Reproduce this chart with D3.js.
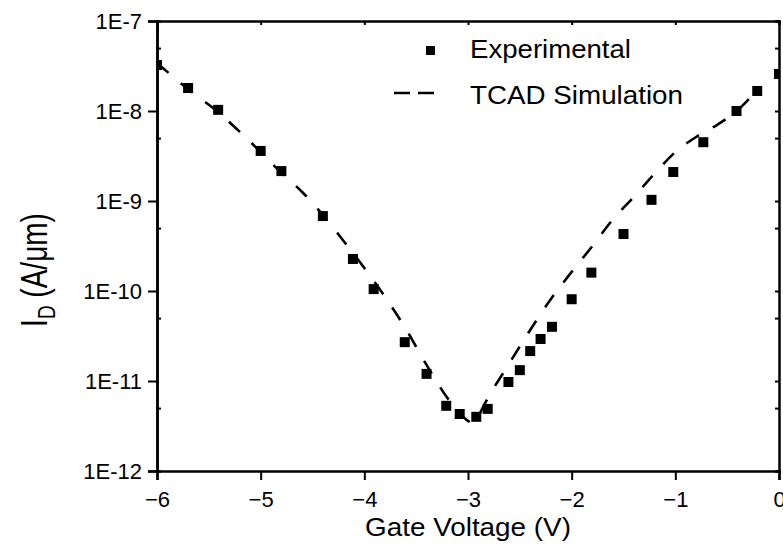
<!DOCTYPE html>
<html>
<head>
<meta charset="utf-8">
<script src="https://cdn.jsdelivr.net/npm/d3@7"></script>
<style>
  body { margin: 0; background: #fff; }
  svg { font-family: "Liberation Sans", Arial, sans-serif; }
</style>
</head>
<body>
<div id="chart"></div>
<script>
// measured drain current vs gate voltage
let expV = [-6, -5.7, -5.41, -5.0, -4.8, -4.4, -4.11, -3.91, -3.61, -3.4, -3.21, -3.08, -2.92, -2.81,
  -2.61, -2.5, -2.4, -2.3, -2.19, -2.0, -1.81, -1.5, -1.23, -1.02, -0.73, -0.41, -0.21, 0]
let expI = [3.24e-8, 1.8e-8, 1.03e-8, 3.6e-9, 2.15e-9, 6.8e-10, 2.27e-10, 1.05e-10, 2.7e-11, 1.2e-11,
  5.3e-12, 4.3e-12, 4.0e-12, 4.9e-12, 9.75e-12, 1.32e-11, 2.15e-11, 2.93e-11, 4.0e-11, 8.1e-11,
  1.6e-10, 4.3e-10, 1.03e-9, 2.1e-9, 4.5e-9, 1.0e-8, 1.67e-8, 2.58e-8]

// TCAD simulation curve
let simV = [-6, -5.7, -5.4, -5.2, -5.0, -4.8, -4.6, -4.4, -4.2, -4.0, -3.8, -3.6, -3.4, -3.2, -3.1,
  -3.0, -2.95, -2.9, -2.84, -2.6, -2.4, -2.2, -2.0, -1.8, -1.6, -1.4, -1.2, -1.0, -0.8, -0.6, -0.4, -0.2]
let simI = [3.41e-8, 1.75e-8, 9.5e-9, 5.85e-9, 3.5e-9, 2.05e-9, 1.26e-9, 7.0e-10, 3.6e-10, 1.8e-10,
  8.6e-11, 3.8e-11, 1.51e-11, 6.5e-12, 4.65e-12, 3.6e-12, 3.41e-12, 4.07e-12, 5.55e-12, 1.58e-11,
  3.69e-11, 8.15e-11, 1.63e-10, 3.16e-10, 6.3e-10, 1.11e-9, 2.02e-9, 3.5e-9, 5.14e-9, 6.98e-9,
  1.02e-8, 1.75e-8]

let xTicks = [-6, -5, -4, -3, -2, -1, 0]
let yTicks = [1e-12, 1e-11, 1e-10, 1e-9, 1e-8, 1e-7]
let yMinor = [5e-12, 5e-11, 5e-10, 5e-9, 5e-8]
let legendLabels = ["Experimental", "TCAD Simulation"]

let width = 783, height = 549
let m = {left: 157, right: 779, top: 21, bottom: 471}

let x = d3.scaleLinear().domain([-6, 0]).range([m.left, m.right])
let y = d3.scaleLog().domain([1e-12, 1e-7]).range([m.bottom, m.top])

let svg = d3.select("#chart").append("svg")
  .attr("width", width)
  .attr("height", height)

svg.append("clipPath").attr("id", "plot")
  .append("rect")
  .attr("x", m.left).attr("y", m.top)
  .attr("width", m.right - m.left).attr("height", m.bottom - m.top)

let fmt = d => "1E" + Math.round(Math.log10(d))

// outer major ticks (bottom, left)
let xAxis = d3.axisBottom(x).tickValues(xTicks).tickSize(9).tickPadding(11).tickFormat(d3.format("d"))
let yAxis = d3.axisLeft(y).tickValues(yTicks).tickSize(9).tickPadding(6).tickFormat(fmt)

svg.append("g").attr("transform", "translate(0," + m.bottom + ")").call(xAxis)
svg.append("g").attr("transform", "translate(" + m.left + ",0)").call(yAxis)

// inner ticks: minor on left, all on right, majors on top
svg.append("g").attr("transform", "translate(" + m.left + ",0)")
  .call(d3.axisRight(y).tickValues(yMinor).tickSize(4).tickFormat(""))
svg.append("g").attr("transform", "translate(" + m.right + ",0)")
  .call(d3.axisLeft(y).tickValues(yTicks.concat(yMinor)).tickSize(4).tickFormat(""))
svg.append("g").attr("transform", "translate(0," + m.top + ")")
  .call(d3.axisBottom(x).tickValues(xTicks).tickSize(4).tickFormat(""))

svg.selectAll(".domain").attr("stroke", "#000").attr("stroke-width", 2.5)
svg.selectAll(".tick line").attr("stroke", "#000").attr("stroke-width", 2)
svg.selectAll(".tick text").attr("font-size", 22).attr("fill", "#000")
  .attr("font-family", "'Liberation Sans', Arial, sans-serif")

// simulation line
let line = d3.line()
  .x((d, i) => x(simV[i]))
  .y(d => y(d))
  .curve(d3.curveMonotoneX)

svg.append("path")
  .datum(simI)
  .attr("clip-path", "url(#plot)")
  .attr("d", line)
  .attr("fill", "none")
  .attr("stroke", "#000")
  .attr("stroke-width", 2.6)
  .attr("stroke-dasharray", "15,16")

// experimental squares
svg.append("g").attr("clip-path", "url(#plot)")
  .selectAll("rect")
  .data(expI)
  .enter().append("rect")
  .attr("x", (d, i) => x(expV[i]) - 5)
  .attr("y", d => y(d) - 5)
  .attr("width", 10)
  .attr("height", 10)
  .attr("fill", "#000")

// legend
svg.append("rect")
  .attr("x", 426).attr("y", 46)
  .attr("width", 9).attr("height", 9)
  .attr("fill", "#000")
svg.append("line")
  .attr("x1", 394).attr("x2", 434)
  .attr("y1", 93).attr("y2", 93)
  .attr("stroke", "#000").attr("stroke-width", 2.6)
  .attr("stroke-dasharray", "16,8")

svg.selectAll(".legend")
  .data(legendLabels)
  .enter().append("text")
  .attr("x", 470)
  .attr("y", (d, i) => 58 + i * 46)
  .attr("font-size", 25)
  .attr("textLength", (d, i) => i == 0 ? 161 : 213)
  .attr("lengthAdjust", "spacingAndGlyphs")
  .text(d => d)

// axis titles
svg.append("text")
  .attr("x", 365)
  .attr("y", 536)
  .attr("font-size", 26)
  .attr("textLength", 206)
  .attr("lengthAdjust", "spacingAndGlyphs")
  .text("Gate Voltage (V)")

let yt = svg.append("text")
  .attr("text-anchor", "middle")
  .attr("transform", "translate(47,270) scale(1.3,1) rotate(-90)")
  .attr("font-size", 28)
yt.append("tspan").text("I")
yt.append("tspan").attr("font-size", 19).attr("dy", 6).text("D")
yt.append("tspan").attr("dy", -6).text(" (A/\u03bcm)")
</script>
</body>
</html>
